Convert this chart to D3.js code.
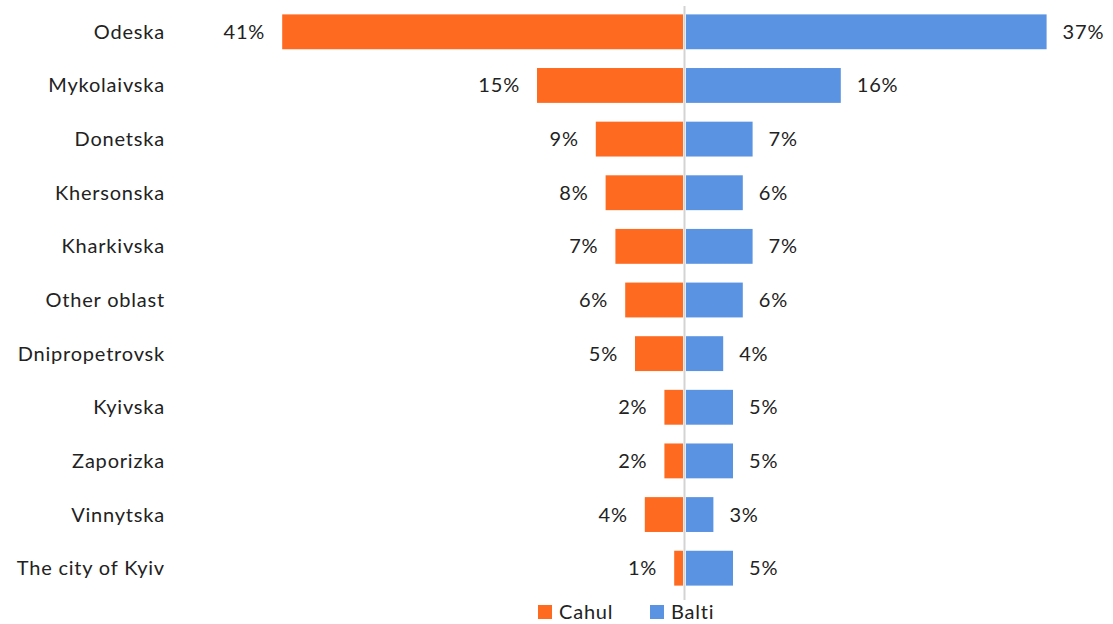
<!DOCTYPE html>
<html>
<head>
<meta charset="utf-8">
<script src="https://cdn.jsdelivr.net/npm/d3@7"></script>
<style>
  html, body { margin: 0; padding: 0; background: #fff; }
  svg { display: block; font-family: "Lato", "Open Sans", sans-serif; }
</style>
</head>
<body>
<svg id="chart" width="1113" height="624"></svg>
<script>
// Regions of origin and shares for each city
const regions = ["Odeska", "Mykolaivska", "Donetska", "Khersonska", "Kharkivska",
  "Other oblast", "Dnipropetrovsk", "Kyivska", "Zaporizka", "Vinnytska", "The city of Kyiv"];
const cahul = [41, 15, 9, 8, 7, 6, 5, 2, 2, 4, 1];
const balti = [37, 16, 7, 6, 7, 6, 4, 5, 5, 3, 5];
const seriesNames = ["Cahul", "Balti"];
const seriesColors = ["#FF6A21", "#5B93E3"];

const svg = d3.select("#chart");
const cx = 684;
const fontSize = 20;
const spacing = "0.8px";

const x = d3.scaleLinear().domain([-45, 45]).range([cx - 441, cx + 441]);
const y = d3.scaleBand().domain(regions).range([5, 595]).paddingInner(0.35).paddingOuter(0.175);

// Category labels
svg.append("g").selectAll("text").data(regions).join("text")
  .attr("x", 165)
  .attr("y", d => y(d) + y.bandwidth() / 2)
  .attr("dy", "0.35em")
  .attr("text-anchor", "end")
  .attr("font-size", fontSize)
  .attr("letter-spacing", spacing)
  .attr("fill", "#222")
  .text(d => d);

// Left bars (Cahul)
svg.append("g").selectAll("rect").data(regions).join("rect")
  .attr("x", (d, i) => x(-cahul[i]))
  .attr("y", d => y(d))
  .attr("width", (d, i) => x(0) - x(-cahul[i]) - 1)
  .attr("height", y.bandwidth())
  .attr("fill", seriesColors[0]);

// Right bars (Balti)
svg.append("g").selectAll("rect").data(regions).join("rect")
  .attr("x", x(0) + 2)
  .attr("y", d => y(d))
  .attr("width", (d, i) => x(balti[i]) - x(0) - 2)
  .attr("height", y.bandwidth())
  .attr("fill", seriesColors[1]);

// Centre axis line
svg.append("line")
  .attr("x1", x(0) + 0.5).attr("x2", x(0) + 0.5)
  .attr("y1", 6).attr("y2", 600)
  .attr("stroke", "#d3d3d3").attr("stroke-width", 2);

// Value labels
svg.append("g").selectAll("text").data(regions).join("text")
  .attr("x", (d, i) => x(-cahul[i]) - 17)
  .attr("y", d => y(d) + y.bandwidth() / 2)
  .attr("dy", "0.35em")
  .attr("text-anchor", "end")
  .attr("font-size", fontSize)
  .attr("letter-spacing", spacing)
  .attr("fill", "#222")
  .text((d, i) => cahul[i] + "%");

svg.append("g").selectAll("text").data(regions).join("text")
  .attr("x", (d, i) => x(balti[i]) + 16)
  .attr("y", d => y(d) + y.bandwidth() / 2)
  .attr("dy", "0.35em")
  .attr("text-anchor", "start")
  .attr("font-size", fontSize)
  .attr("letter-spacing", spacing)
  .attr("fill", "#222")
  .text((d, i) => balti[i] + "%");

// Legend
const legendX = [538, 650];
const lg = svg.append("g").selectAll("g").data(seriesNames).join("g")
  .attr("transform", (d, i) => `translate(${legendX[i]},612)`);
lg.append("rect").attr("x", 0).attr("y", -7).attr("width", 14).attr("height", 14)
  .attr("fill", (d, i) => seriesColors[i]);
lg.append("text").attr("x", 21).attr("dy", "0.35em")
  .attr("font-size", fontSize).attr("letter-spacing", spacing)
  .attr("fill", "#222").text(d => d);
</script>
</body>
</html>
